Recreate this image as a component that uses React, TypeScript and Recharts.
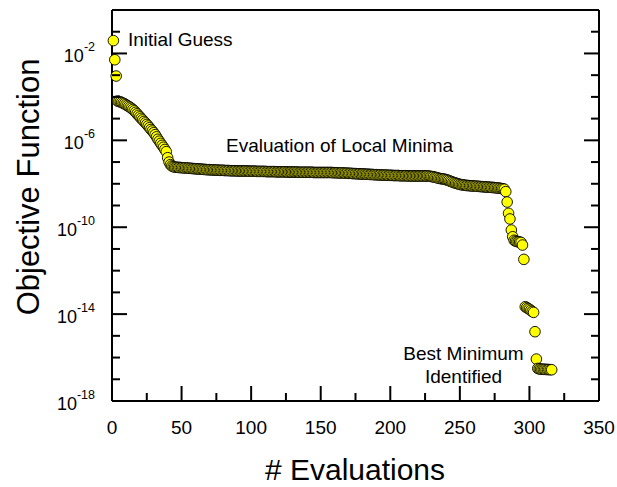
import { ScatterChart, Scatter, XAxis, YAxis } from 'recharts';

// log10 of the objective value, one entry per evaluation (1, 2, 3, ...)
const initialGuess = [-1.41, -2.29, -3.04];

const descent = [
  -4.19, -4.21, -4.23, -4.26, -4.29, -4.32, -4.36, -4.4, -4.44, -4.48,
  -4.53, -4.58, -4.64, -4.71, -4.78, -4.85, -4.92, -4.99, -5.06, -5.13,
  -5.2, -5.27, -5.34, -5.42, -5.5, -5.57, -5.65, -5.74, -5.84, -5.95,
  -6.04, -6.14, -6.23, -6.32, -6.42, -6.52, -6.8, -7.0, -7.12, -7.18,
  -7.21, -7.23,
];

const plateau = [
  -7.24, -7.24, -7.25, -7.25, -7.26, -7.26, -7.27, -7.27, -7.28, -7.28,
  -7.29, -7.29, -7.3, -7.3, -7.31, -7.31, -7.32, -7.32, -7.33, -7.33,
  -7.34, -7.34, -7.35, -7.35, -7.35, -7.36, -7.36, -7.36, -7.37, -7.37,
  -7.37, -7.38, -7.38, -7.38, -7.38, -7.39, -7.39, -7.39, -7.39, -7.4,
  -7.4, -7.4, -7.4, -7.4, -7.41, -7.41, -7.41, -7.41, -7.41, -7.41,
  -7.41, -7.41, -7.42, -7.42, -7.42, -7.42, -7.42, -7.42, -7.43, -7.43,
  -7.43, -7.43, -7.43, -7.43, -7.43, -7.44, -7.44, -7.44, -7.44, -7.44,
  -7.44, -7.44, -7.45, -7.45, -7.45, -7.45, -7.45, -7.45, -7.45, -7.45,
  -7.46, -7.46, -7.46, -7.46, -7.46, -7.46, -7.46, -7.46, -7.47, -7.47,
  -7.47, -7.47, -7.47, -7.47, -7.47, -7.47, -7.47, -7.47, -7.47, -7.48,
  -7.48, -7.48, -7.48, -7.48, -7.48, -7.48, -7.48, -7.48, -7.48, -7.48,
  -7.48, -7.48, -7.48, -7.49, -7.49, -7.49, -7.49, -7.5, -7.5, -7.5,
  -7.5, -7.51, -7.51, -7.51, -7.52, -7.52, -7.52, -7.53, -7.53, -7.53,
  -7.54, -7.54, -7.54, -7.55, -7.55, -7.55, -7.56, -7.56, -7.56, -7.57,
  -7.57, -7.57, -7.58, -7.58, -7.58, -7.59, -7.59, -7.59, -7.6, -7.6,
  -7.6, -7.6, -7.61, -7.61, -7.61, -7.61, -7.62, -7.62, -7.62, -7.62,
  -7.62, -7.63, -7.63, -7.63, -7.63, -7.63, -7.63, -7.64, -7.64, -7.64,
  -7.64, -7.64, -7.64, -7.64, -7.64, -7.64, -7.64, -7.64, -7.64, -7.64,
  -7.64, -7.64, -7.65, -7.66, -7.67, -7.68, -7.7, -7.71, -7.73, -7.75,
  -7.76, -7.77, -7.78, -7.79, -7.81, -7.83, -7.85, -7.88, -7.9, -7.93,
  -7.95, -7.97, -7.99, -8.01, -8.03, -8.04, -8.05, -8.06, -8.07, -8.08,
  -8.08, -8.09, -8.09, -8.1, -8.1, -8.11, -8.11, -8.12, -8.12, -8.13,
  -8.13, -8.14, -8.14, -8.15, -8.15, -8.16, -8.16, -8.17, -8.17, -8.18,
  -8.18, -8.19, -8.2, -8.21, -8.22, -8.23, -8.25,
];

const finalDrop = [
  -8.36, -8.84, -9.36, -9.62, -10.13, -10.44, -10.6, -10.64, -10.66, -10.67,
  -10.68, -10.7, -10.82, -11.48, -13.66, -13.7, -13.74, -13.78, -13.83, -13.88,
  -13.92, -14.81, -16.07, -16.5, -16.52, -16.53, -16.54, -16.54, -16.54, -16.55,
  -16.55, -16.55, -16.56, -16.56,
];

const xTicks = [0, 25, 50, 75, 100, 125, 150, 175, 200, 225, 250, 275, 300, 325, 350];
const yExponents = [-18, -17, -16, -15, -14, -13, -12, -11, -10, -9, -8, -7, -6, -5, -4, -3, -2, -1, 0];
const yTicks = yExponents.map((e) => 10 ** e);

const exponents = [...initialGuess, ...descent, ...plateau, ...finalDrop];
const points = exponents.map((e, i) => ({ x: i + 1, y: 10 ** e }));

const FONT = '"Liberation Sans", Arial, Helvetica, sans-serif';
const MAJOR = 15;
const MINOR = 8;

const expOf = (v: number) => Math.round(Math.log10(v));
const isMajorY = (v: number) => (expOf(v) + 2) % 4 === 0;
const isMajorX = (v: number) => v % 50 === 0;

// axes are 1px wide/high so Recharts still draws them; tick x/y lands on the axis line
function LeftTick({ x, y, payload }: any) {
  const major = isMajorY(payload.value);
  return (
    <g>
      <line x1={x} y1={y} x2={x + (major ? MAJOR : MINOR)} y2={y} stroke="#000" strokeWidth={2} />
      {major && (
        <text x={x - 17} y={y + 9} textAnchor="end" fontFamily={FONT} fontSize={18} fill="#000">
          <tspan>10</tspan>
          <tspan dy={-11} fontSize={12.5}>{String(expOf(payload.value))}</tspan>
        </text>
      )}
    </g>
  );
}

function RightTick({ x, y, payload }: any) {
  const major = isMajorY(payload.value);
  return <line x1={x} y1={y} x2={x - (major ? MAJOR : MINOR)} y2={y} stroke="#000" strokeWidth={2} />;
}

function BottomTick({ x, y, payload }: any) {
  const major = isMajorX(payload.value);
  return (
    <g>
      <line x1={x} y1={y} x2={x} y2={y - (major ? MAJOR : MINOR)} stroke="#000" strokeWidth={2} />
      {major && (
        <text x={x} y={y + 33} textAnchor="middle" fontFamily={FONT} fontSize={19} fill="#000">
          {payload.value}
        </text>
      )}
    </g>
  );
}

function TopTick({ x, y, payload }: any) {
  const major = isMajorX(payload.value);
  return <line x1={x} y1={y} x2={x} y2={y + (major ? MAJOR : MINOR)} stroke="#000" strokeWidth={2} />;
}

const Marker = (p: any) => (
  <circle cx={p.cx} cy={p.cy} r={5.3} fill="#ffff00" stroke="#000" strokeWidth={0.9} />
);

const axisLine = { stroke: '#000', strokeWidth: 2 };

export default function App() {
  return (
    <div style={{ position: 'absolute', left: 0, top: 0, background: '#fff' }}>
      <ScatterChart width={617} height={487} margin={{ top: 9, right: 17, bottom: 85, left: 111 }}>
        <XAxis
          xAxisId="bottom"
          dataKey="x"
          type="number"
          domain={[0, 350]}
          ticks={xTicks}
          interval={0}
          height={1}
          tickSize={0}
          tickMargin={0}
          axisLine={axisLine}
          tickLine={false}
          tick={<BottomTick />}
        />
        <XAxis
          xAxisId="top"
          orientation="top"
          type="number"
          domain={[0, 350]}
          allowDataOverflow
          ticks={xTicks}
          interval={0}
          height={1}
          tickSize={0}
          tickMargin={0}
          axisLine={axisLine}
          tickLine={false}
          tick={<TopTick />}
        />
        <YAxis
          yAxisId="left"
          dataKey="y"
          type="number"
          scale="log"
          domain={[1e-18, 1]}
          allowDataOverflow
          ticks={yTicks}
          interval={0}
          width={1}
          tickSize={0}
          tickMargin={0}
          axisLine={axisLine}
          tickLine={false}
          tick={<LeftTick />}
        />
        <YAxis
          yAxisId="right"
          orientation="right"
          type="number"
          scale="log"
          domain={[1e-18, 1]}
          allowDataOverflow
          ticks={yTicks}
          interval={0}
          width={1}
          tickSize={0}
          tickMargin={0}
          axisLine={axisLine}
          tickLine={false}
          tick={<RightTick />}
        />
        <Scatter
          data={points}
          xAxisId="bottom"
          yAxisId="left"
          shape={Marker}
          isAnimationActive={false}
        />
        <text x={128} y={46} fontFamily={FONT} fontSize={19} fill="#000">Initial Guess</text>
        <text x={226} y={152} fontFamily={FONT} fontSize={19} fill="#000">Evaluation of Local Minima</text>
        <text x={463.5} y={360} textAnchor="middle" fontFamily={FONT} fontSize={19} fill="#000">Best Minimum</text>
        <text x={463.5} y={383} textAnchor="middle" fontFamily={FONT} fontSize={19} fill="#000">Identified</text>
        <text x={355} y={480} textAnchor="middle" fontFamily={FONT} fontSize={30} fill="#000"># Evaluations</text>
        <text
          x={39}
          y={187}
          textAnchor="middle"
          transform="rotate(-90, 39, 187)"
          fontFamily={FONT}
          fontSize={31}
          fill="#000"
        >
          Objective Function
        </text>
      </ScatterChart>
    </div>
  );
}
